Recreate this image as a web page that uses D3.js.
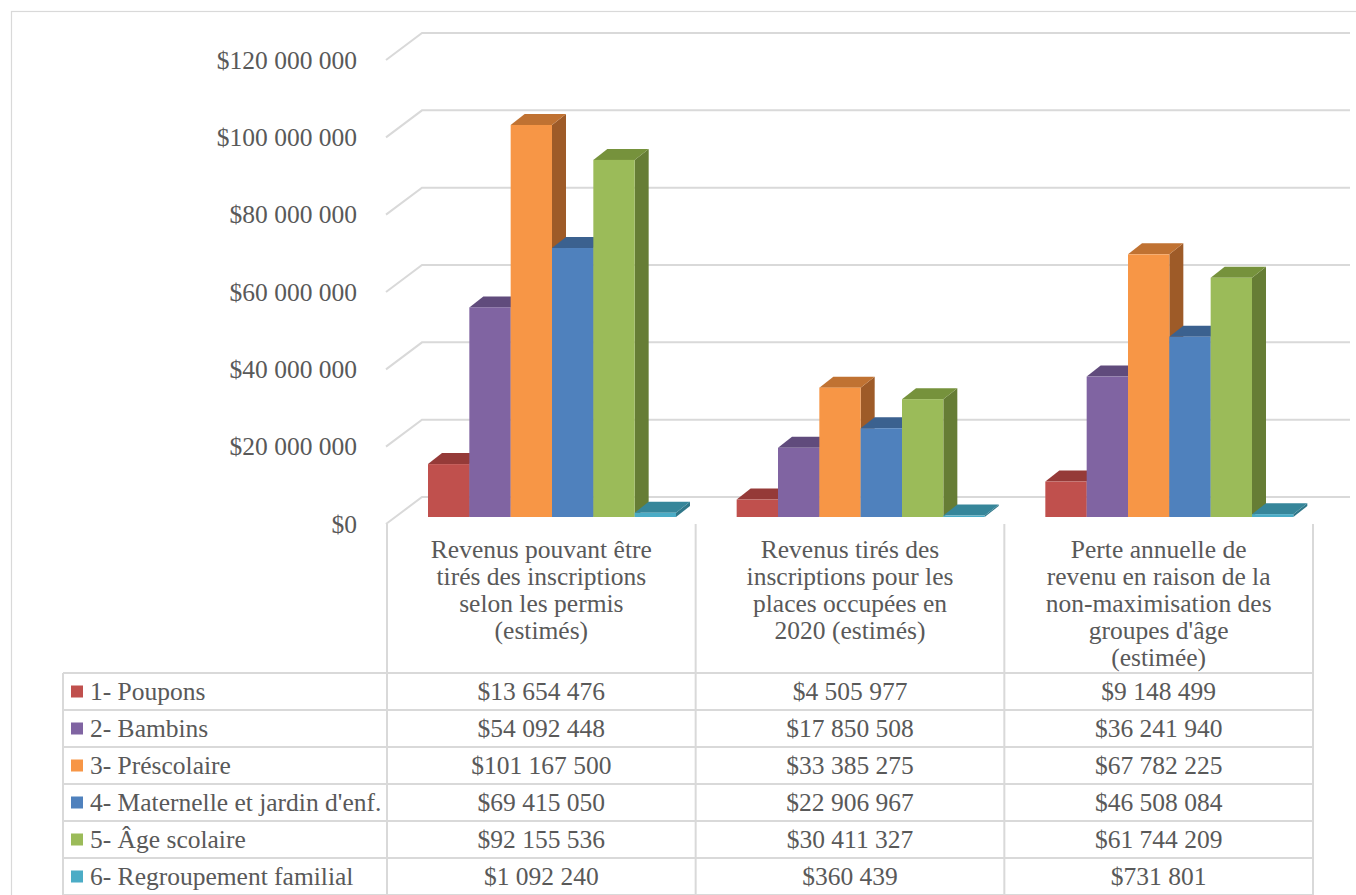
<!DOCTYPE html>
<html>
<head>
<meta charset="utf-8">
<script src="https://cdn.jsdelivr.net/npm/d3@7"></script>
<style>
  html, body { margin: 0; padding: 0; background: #fff; }
  svg { display: block; }
  text { font-family: "Liberation Serif", "DejaVu Serif", serif; fill: #595959; }
</style>
</head>
<body>
<svg id="chart" width="1356" height="895"></svg>
<script>
// ---- DATA ----
const categories = [
  "Revenus pouvant être tirés des inscriptions selon les permis (estimés)",
  "Revenus tirés des inscriptions pour les places occupées en 2020 (estimés)",
  "Perte annuelle de revenu en raison de la non-maximisation des groupes d'âge (estimée)"
];
const categoryLines = [
  ["Revenus pouvant être", "tirés des inscriptions", "selon les permis", "(estimés)"],
  ["Revenus tirés des", "inscriptions pour les", "places occupées en", "2020 (estimés)"],
  ["Perte annuelle de", "revenu en raison de la", "non-maximisation des", "groupes d'âge", "(estimée)"]
];
const seriesNames = [
  "1- Poupons",
  "2- Bambins",
  "3- Préscolaire",
  "4- Maternelle et jardin d'enf.",
  "5- Âge scolaire",
  "6- Regroupement familial"
];
const poupons    = [13654476, 4505977, 9148499];
const bambins    = [54092448, 17850508, 36241940];
const prescolaire = [101167500, 33385275, 67782225];
const maternelle = [69415050, 22906967, 46508084];
const ageScolaire = [92155536, 30411327, 61744209];
const regroupement = [1092240, 360439, 731801];
const seriesValues = [poupons, bambins, prescolaire, maternelle, ageScolaire, regroupement];
const tickValues = [0, 20000000, 40000000, 60000000, 80000000, 100000000, 120000000];

// colours: front, top, side
const frontColors = ["#C0504D", "#8064A2", "#F79646", "#4F81BD", "#9BBB59", "#4BACC6"];
const topColors   = ["#953A38", "#604B7C", "#C07232", "#3B618F", "#76923C", "#36869A"];
const sideColors  = ["#8A3533", "#574470", "#9E5B28", "#375A85", "#667D35", "#2F7789"];

// ---- LAYOUT ----
const FS = 25.5;
const svg = d3.select("#chart");
const locale = d3.formatLocale({ decimal: ",", thousands: " ", grouping: [3], currency: ["$", ""] });
const fmt = locale.format("$,.0f");

const DX = 14, DY = -11;          // bar depth offset
const WDX = 36, WDY = -27;        // wall depth offset

const x0 = d3.scaleBand().domain(categories).range([387, 1313]).paddingInner(0).paddingOuter(0);
const x1 = d3.scaleBand().domain(seriesNames).range([41, 289]);
const yBar = d3.scaleLinear().domain([0, 120000000]).range([517, 52]);
const yBack = d3.scaleLinear().domain([0, 120000000]).range([497, 33]);
const yFront = d3.scaleLinear().domain([0, 120000000]).range([497 - WDY, 33 - WDY]);

// chart border
svg.append("rect").attr("x", 11.5).attr("y", 11.5).attr("width", 1400).attr("height", 1000)
  .attr("fill", "none").attr("stroke", "#D9D9D9").attr("stroke-width", 1.2);

// gridlines (wall)
const gridX0 = 386, gridXEnd = 1350;
svg.append("g").selectAll("path").data(tickValues).join("path")
  .attr("d", v => `M${gridX0},${yFront(v)} L${gridX0 + WDX},${yBack(v)} L${gridXEnd},${yBack(v)}`)
  .attr("fill", "none").attr("stroke", "#D9D9D9").attr("stroke-width", 2);

// y axis labels
const yAxis = d3.axisLeft(yFront).tickValues(tickValues).tickFormat(fmt).tickSize(0).tickPadding(9);
const gAxis = svg.append("g").attr("transform", "translate(366,0)").call(yAxis);
gAxis.select(".domain").remove();
gAxis.selectAll("text").attr("font-family", "Liberation Serif").attr("font-size", FS).attr("fill", "#595959");

// bars
const bars = [];
categories.forEach((c, ci) => {
  seriesNames.forEach((s, si) => {
    bars.push({ c, ci, s, si, v: seriesValues[si][ci] });
  });
});
const gBars = svg.append("g");
bars.forEach(b => {
  const xl = x0(b.c) + x1(b.s);
  const w = x1.bandwidth();
  const xr = xl + w;
  const yt = yBar(b.v);
  const yb = yBar(0);
  const g = gBars.append("g");
  g.append("path")
    .attr("d", `M${xr},${yt} L${xr + DX},${yt + DY} L${xr + DX},${yb + DY} L${xr},${yb} Z`)
    .attr("fill", sideColors[b.si]);
  g.append("path")
    .attr("d", `M${xl},${yt} L${xl + DX},${yt + DY} L${xr + DX},${yt + DY} L${xr},${yt} Z`)
    .attr("fill", topColors[b.si]);
  g.append("rect").attr("x", xl).attr("y", yt).attr("width", w).attr("height", yb - yt)
    .attr("fill", frontColors[b.si]);
});

// ---- DATA TABLE ----
const tableLeft = 63, headTop = 524, rowTop = 673, rowH = 37;
const colEdges = [x0.range()[0]].concat(categories.map(c => x0(c) + x0.bandwidth()));
const gT = svg.append("g").attr("stroke", "#D9D9D9").attr("stroke-width", 2).attr("fill", "none");
colEdges.forEach(x => {
  gT.append("line").attr("x1", x).attr("x2", x).attr("y1", headTop).attr("y2", 895);
});
gT.append("line").attr("x1", tableLeft).attr("x2", tableLeft).attr("y1", rowTop).attr("y2", 895);
for (let i = 0; i <= seriesNames.length; i++) {
  gT.append("line").attr("x1", tableLeft).attr("x2", colEdges[colEdges.length - 1])
    .attr("y1", rowTop + i * rowH).attr("y2", rowTop + i * rowH);
}

// header texts
categoryLines.forEach((lines, ci) => {
  const cx = x0(categories[ci]) + x0.bandwidth() / 2;
  const t = svg.append("text").attr("text-anchor", "middle").attr("font-size", FS);
  lines.forEach((ln, li) => {
    t.append("tspan").attr("x", cx).attr("y", 558 + li * 27).text(ln);
  });
});

// rows
seriesNames.forEach((s, si) => {
  const yMid = rowTop + si * rowH + rowH / 2;
  svg.append("rect").attr("x", 71).attr("y", yMid - 6).attr("width", 12).attr("height", 12)
    .attr("fill", frontColors[si]);
  svg.append("text").attr("x", 90).attr("y", yMid).attr("dy", "0.35em")
    .attr("font-size", FS).text(s);
  categories.forEach((c, ci) => {
    svg.append("text").attr("x", x0(c) + x0.bandwidth() / 2).attr("y", yMid).attr("dy", "0.35em")
      .attr("text-anchor", "middle").attr("font-size", FS).text(fmt(seriesValues[si][ci]));
  });
});
</script>
</body>
</html>
